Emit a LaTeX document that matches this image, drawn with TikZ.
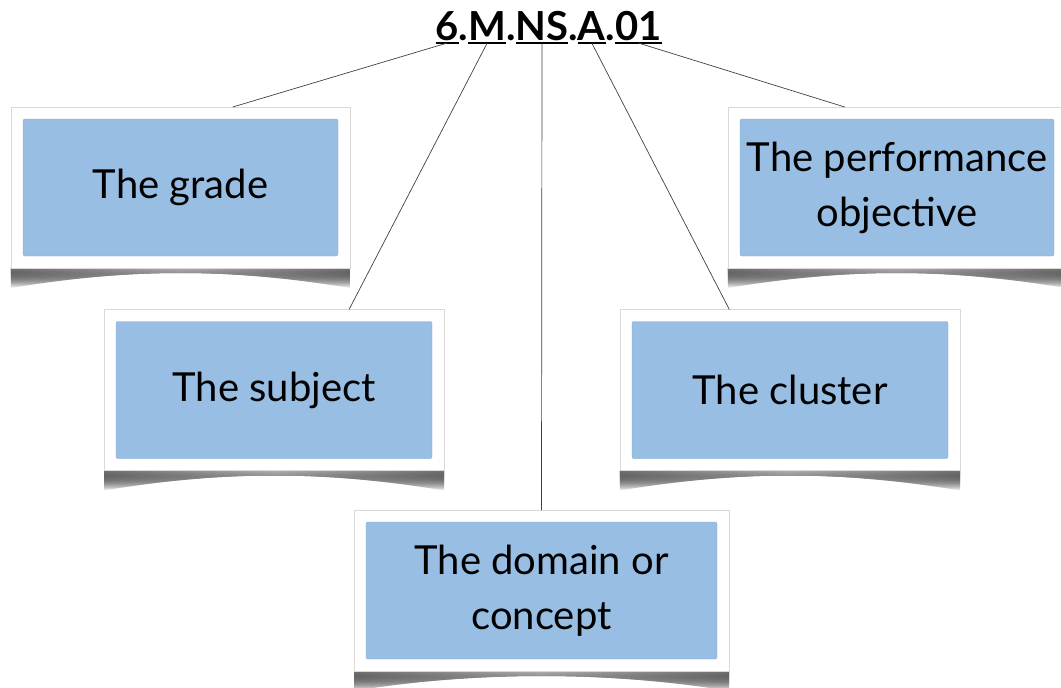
\documentclass[tikz,border=0pt]{standalone}
\usepackage{fontspec}
\setmainfont{Lato}
\usetikzlibrary{positioning,backgrounds,fadings}
\definecolor{topicblue}{RGB}{152,190,227}
\definecolor{topicedge}{RGB}{135,172,212}

\begin{document}
\begin{tikzpicture}[x=1pt, y=-1pt,
    topic/.style={rectangle, fill=topicblue, draw=topicedge, rounded corners=2pt, minimum width=316pt, minimum height=137pt, outer sep=12pt, align=center, font=\fontsize{40}{55}\selectfont},
    code/.style={font=\fontsize{40}{42}\selectfont\bfseries, inner xsep=0pt, inner ysep=3pt, text depth=0pt, outer sep=0pt},
    link/.style={black!75, line width=0.7pt},
    uline/.style={line width=2.6pt},
    boxframe/.style={fill=white, draw=black!15, line width=1pt},
    dropshadow/.style={left color=black!55, right color=black!55, middle color=black!30, path fading=south}]
    \useasboundingbox (0,0) rectangle (1061,688);

    % the code, one node per part
    \node[code, anchor=base] (cNS) at (542,40) {NS};
    \node[code, base left=0pt of cNS] (d2) {.};
    \node[code, base left=0pt of d2] (cM) {M};
    \node[code, base left=0pt of cM] (d1) {.};
    \node[code, base left=0pt of d1] (c6) {6};
    \node[code, base right=0pt of cNS] (d3) {.};
    \node[code, base right=0pt of d3] (cA) {A};
    \node[code, base right=0pt of cA] (d4) {.};
    \node[code, base right=0pt of d4] (c01) {01};
    \foreach \c in {c6,cM,cNS,cA,c01}
      \draw[uline] (\c.south west) -- (\c.south east);

    \node[topic, minimum width=315pt] (grade) at (180.5,187.5) {The grade};
    \node[topic, minimum width=314pt] (objective) at (897,187.5) {The performance\\objective};
    \node[topic] (subject) at (274,390) {The subject};
    \node[topic] (cluster) at (790,390) {The cluster};
    \node[topic, minimum width=351pt] (domain) at (541.5,590.5) {The domain or\\concept};

    \path[link] (c6.south) edge (grade.57)
      (cM.south) edge (subject.47)
      (cNS.south) edge (domain.north)
      (cA.south) edge (cluster.127)
      (c01.south) edge (objective.123);

    % white frames and their shadows
    \begin{scope}[on background layer]
      \foreach \n in {grade,objective,subject,cluster,domain}{
        \fill[dropshadow] (\n.south east) -- (\n.south west) -- ++(0,20) .. controls +(120,-20) and +(-120,-20) .. ([yshift=-20pt]\n.south east) -- cycle;
        \draw[boxframe] (\n.south west) rectangle (\n.north east);
      }
    \end{scope}
  \end{tikzpicture}
\end{document}
